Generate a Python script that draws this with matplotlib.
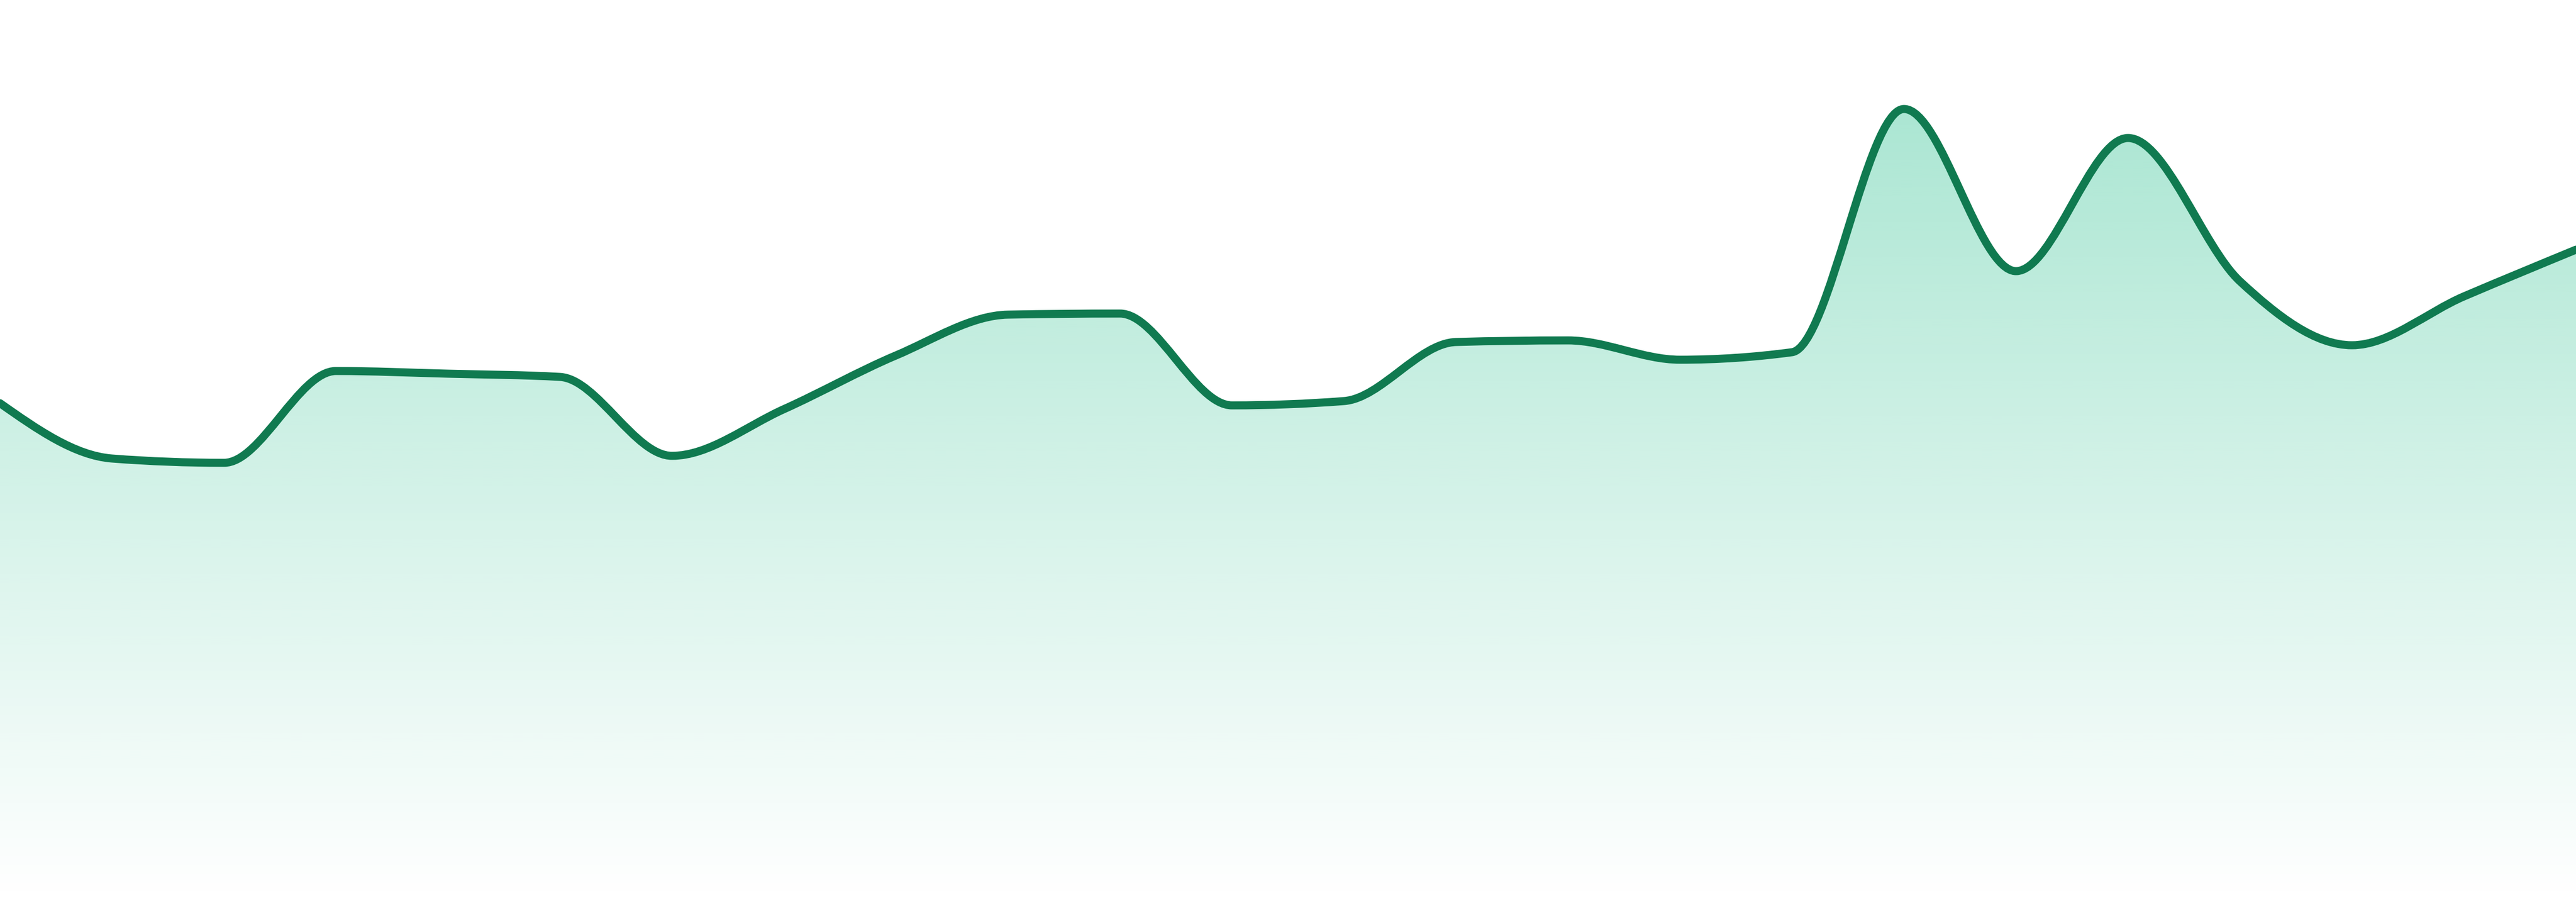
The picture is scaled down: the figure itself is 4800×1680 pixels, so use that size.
import numpy as np
import matplotlib
matplotlib.use("Agg")
import matplotlib.pyplot as plt
from matplotlib.path import Path
from matplotlib.patches import PathPatch
from matplotlib.colors import to_rgb

# values (24 points, evenly spaced)
idx = list(range(24))
vals = [929, 826, 818, 989, 984, 978, 831, 918, 1018, 1094, 1096, 925,
        933, 1043, 1046, 1010, 1024, 1477, 1175, 1423, 1156, 1037, 1128, 1215]
y_max = 1680

line_col = "#107a50"
fill_col = "#10b981"


# monotone cubic tangents (same rule as d3 curveMonotoneX)
def tangents(x, y):
    x = np.asarray(x, float)
    y = np.asarray(y, float)
    n = len(x)
    t = np.zeros(n)
    for i in range(1, n - 1):
        h0 = x[i] - x[i-1]
        h1 = x[i+1] - x[i]
        s0 = (y[i] - y[i-1]) / h0
        s1 = (y[i+1] - y[i]) / h1
        p = (s0*h1 + s1*h0) / (h0 + h1)
        t[i] = (np.sign(s0) + np.sign(s1)) * min(abs(s0), abs(s1), 0.5*abs(p))
    h = x[1] - x[0]
    t[0] = (3*(y[1] - y[0])/h - t[1]) / 2
    h = x[-1] - x[-2]
    t[-1] = (3*(y[-1] - y[-2])/h - t[-2]) / 2
    return t


def curve_path(x, y, close_to=None):
    t = tangents(x, y)
    verts = [(x[0], y[0])]
    codes = [Path.MOVETO]
    for i in range(len(x) - 1):
        dx = (x[i+1] - x[i]) / 3
        verts += [(x[i] + dx, y[i] + dx*t[i]),
                  (x[i+1] - dx, y[i+1] - dx*t[i+1]),
                  (x[i+1], y[i+1])]
        codes += [Path.CURVE4] * 3
    if close_to is not None:
        verts += [(x[-1], close_to), (x[0], close_to), (x[0], y[0])]
        codes += [Path.LINETO, Path.LINETO, Path.CLOSEPOLY]
    return Path(verts, codes)


fig = plt.figure(figsize=(16, 5.6), dpi=300)
ax = fig.add_axes([0, 0, 1, 1])
ax.set_xlim(idx[0], idx[-1])
ax.set_ylim(0, y_max)
ax.axis("off")

# gradient fill under the curve
area = PathPatch(curve_path(idx, vals, close_to=0), facecolor="none", edgecolor="none")
ax.add_patch(area)
grad = np.zeros((256, 1, 4))
grad[:, 0, :3] = to_rgb(fill_col)
grad[:, 0, 3] = np.linspace(0.4, 0.0, 256)
im = ax.imshow(grad, extent=[idx[0], idx[-1], 0, y_max], aspect="auto",
               origin="upper", interpolation="bilinear")
im.set_clip_path(area)

# the line itself
ax.add_patch(PathPatch(curve_path(idx, vals), facecolor="none",
                       edgecolor=line_col, lw=3.6, capstyle="round", joinstyle="round"))

fig.savefig("out.png", dpi=300)
